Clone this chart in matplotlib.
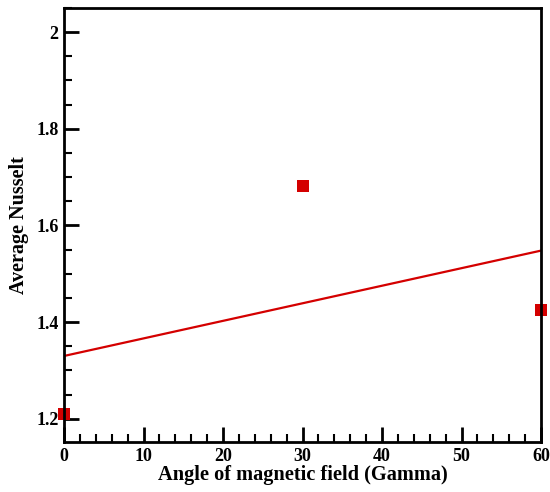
import matplotlib
matplotlib.use("Agg")
import matplotlib.pyplot as plt
from matplotlib.ticker import MultipleLocator

gamma = [0, 30, 60]
nusselt = [1.21, 1.682, 1.426]
fit_x = [0, 60]
fit_y = [1.330, 1.548]

plt.rcParams['font.family'] = ['Liberation Serif', 'DejaVu Serif']
plt.rcParams['font.weight'] = 'bold'

fig = plt.figure(figsize=(5.5, 4.92), dpi=100)
ax = fig.add_axes([64/550, 50/492, 477/550, 434/492])

red = '#d40000'
ax.plot(fit_x, fit_y, color=red, lw=1.6, zorder=2)
ax.plot(gamma, nusselt, 's', color=red, ms=8.5, mew=0, clip_on=False, zorder=2)

ax.set_xlim(0, 60)
ax.set_ylim(1.152, 2.05)
ax.xaxis.set_major_locator(MultipleLocator(10))
ax.xaxis.set_minor_locator(MultipleLocator(2))
ax.yaxis.set_major_locator(MultipleLocator(0.2))
ax.yaxis.set_minor_locator(MultipleLocator(0.05))
ax.yaxis.set_major_formatter(matplotlib.ticker.FuncFormatter(lambda v, p: f"{v:g}"))

for s in ax.spines.values():
    s.set_linewidth(2)
ax.tick_params(which='both', direction='in', top=False, right=False)
ax.tick_params(which='major', length=11, width=2, labelsize=13, pad=4)
ax.tick_params(which='minor', length=5.5, width=1.5)
for lab in ax.get_xticklabels() + ax.get_yticklabels():
    lab.set_fontweight('bold')

ax.set_xlabel('Angle of magnetic field (Gamma)', fontsize=14.7, fontweight='bold', labelpad=0)
ax.set_ylabel('Average Nusselt', fontsize=14.5, fontweight='bold', labelpad=5)

fig.savefig('out.png', dpi=100)
